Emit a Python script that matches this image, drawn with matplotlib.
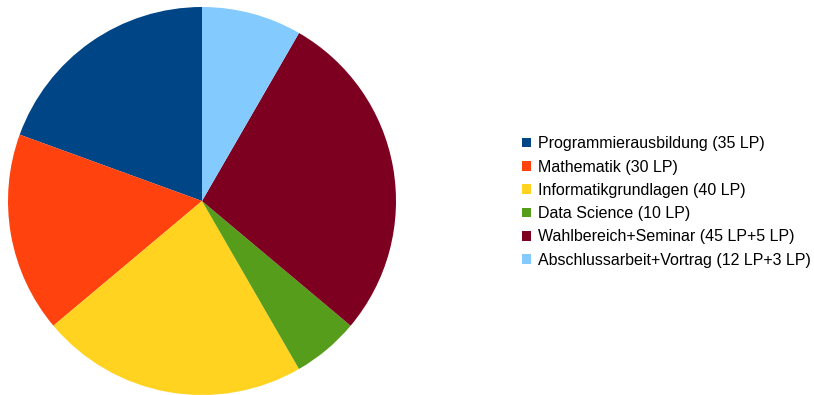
import matplotlib.pyplot as plt

labels = ['Programmierausbildung (35 LP)', 'Mathematik (30 LP)', 'Informatikgrundlagen (40 LP)',
          'Data Science (10 LP)', 'Wahlbereich+Seminar (45 LP+5 LP)', 'Abschlussarbeit+Vortrag (12 LP+3 LP)']
credits = [35, 30, 40, 10, 50, 15]
colors = ['#004586', '#ff420e', '#ffd320', '#579d1c', '#7e0021', '#83caff']

plt.rcParams['font.family'] = ['Liberation Sans', 'DejaVu Sans']

fig = plt.figure(figsize=(8.14, 3.95), dpi=100)
ax = fig.add_axes([8 / 814, 0, 388 / 814, 388 / 395])
wedges, _ = ax.pie(credits, colors=colors, startangle=90, counterclock=True,
                   wedgeprops=dict(linewidth=0))
ax.set_xlim(-1, 1)
ax.set_ylim(-1, 1)
ax.set_aspect('equal')

fig.legend(wedges, labels, loc='center left', bbox_to_anchor=(522 / 814, 1 - 202 / 395),
           frameon=False, fontsize=11.5, handlelength=0.55, handleheight=0.55,
           handletextpad=0.45, labelspacing=0.52, borderaxespad=0, borderpad=0)

fig.savefig('out.png', dpi=100)
